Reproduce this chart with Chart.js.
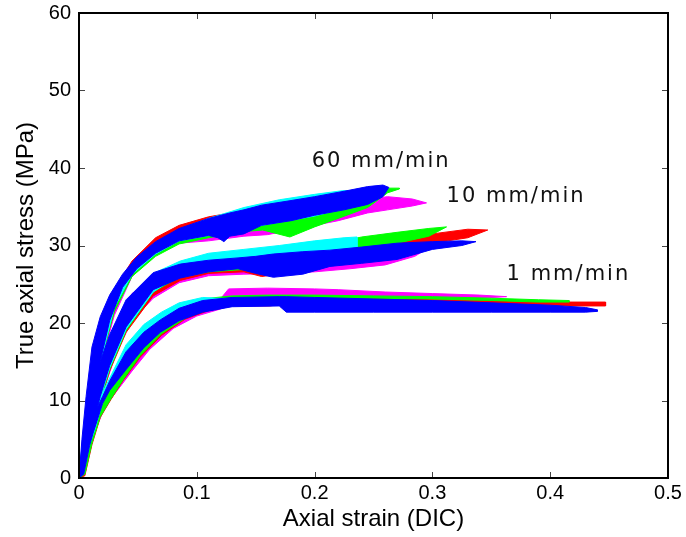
<!DOCTYPE html>
<html>
<head>
<meta charset="utf-8">
<script src="https://cdn.jsdelivr.net/npm/chart.js@4"></script>
<style>
  html, body { margin: 0; padding: 0; background: #fff; }
  canvas { display: block; }
</style>
</head>
<body>
<canvas id="stressChart" width="686" height="537"></canvas>
<script>
// === axis ticks ===
const xTickValues = [0, 0.1, 0.2, 0.3, 0.4, 0.5];
const xTickLabels = ['0', '0.1', '0.2', '0.3', '0.4', '0.5'];
const yTickValues = [0, 10, 20, 30, 40, 50, 60];
const yTickLabels = ['0', '10', '20', '30', '40', '50', '60'];
const rateLabels = ['60 mm/min', '10 mm/min', '1 mm/min'];

// === 60 mm/min : each test is a band (upper / lower envelope of the cycles) ===
const strain60Blue = [0, 0.0025, 0.006, 0.011, 0.018, 0.026, 0.037, 0.049, 0.065, 0.085, 0.11, 0.118, 0.123, 0.128, 0.14, 0.155, 0.18, 0.2, 0.225, 0.245, 0.258, 0.263];
const upper60Blue = [0, 5, 10.5, 16.9, 20.8, 23.6, 26.3, 28.5, 30.5, 32.2, 33.5, 33.8, 34.0, 34.2, 34.6, 35.2, 35.8, 36.3, 37.0, 37.6, 37.8, 37.5];
const lower60Blue = [0, 0.5, 3, 8, 15, 20.3, 24.6, 27, 29.0, 30.6, 31.3, 31.0, 30.5, 31.2, 31.5, 32.6, 33.2, 33.9, 34.6, 35.3, 36.3, 37.5];

const strain60Cyan = [0, 0.003, 0.007, 0.012, 0.02, 0.03, 0.045, 0.065, 0.085, 0.11, 0.14, 0.17, 0.2, 0.225, 0.24];
const upper60Cyan = [0, 5, 10, 16.2, 20.5, 24, 27.5, 30.3, 32.0, 33.5, 34.9, 35.9, 36.6, 37.1, 36.9];
const lower60Cyan = [0, 1, 4, 8.5, 16, 22, 26.3, 28.9, 30.6, 31.3, 32.2, 33, 33.8, 34.8, 36.9];

const strain60Green = [0, 0.003, 0.007, 0.012, 0.02, 0.03, 0.045, 0.065, 0.085, 0.11, 0.14, 0.156, 0.179, 0.2, 0.22, 0.245, 0.262, 0.272];
const upper60Green = [0, 4.5, 9.5, 15.8, 20.3, 23.8, 27.4, 30.2, 31.9, 33.2, 34.4, 34.9, 35.6, 36.1, 36.6, 37.1, 37.4, 37.4];
const lower60Green = [0, 1, 3.5, 8, 16, 21.5, 26, 28.6, 30.2, 31.0, 31.8, 32.0, 31.1, 32.4, 33.5, 34.9, 36.8, 37.3];

const strain60Red = [0, 0.003, 0.007, 0.012, 0.02, 0.03, 0.045, 0.065, 0.085, 0.11, 0.14, 0.17, 0.2, 0.23, 0.245];
const upper60Red = [0, 4.5, 10, 16, 20.8, 24.3, 28, 31.0, 32.6, 33.7, 34.5, 35.2, 35.8, 36.4, 36.2];
const lower60Red = [0, 1, 4, 8.5, 16, 21.5, 26.3, 28.9, 30.5, 31.3, 32, 32.8, 33.6, 34.5, 36.2];

const strain60Magenta = [0, 0.003, 0.007, 0.012, 0.02, 0.03, 0.045, 0.065, 0.085, 0.11, 0.14, 0.16, 0.19, 0.22, 0.245, 0.262, 0.283, 0.295];
const upper60Magenta = [0, 4, 9, 15, 19.8, 23.2, 26.8, 29.8, 31.5, 32.8, 33.8, 34.3, 35, 35.6, 36.0, 36.3, 36.0, 35.5];
const lower60Magenta = [0, 0.8, 3, 8, 15.5, 21, 26, 28.8, 30.3, 30.6, 31.2, 31.4, 32.3, 33.2, 34.2, 34.6, 35.1, 35.5];

// === 10 mm/min ===
const strain10Blue = [0, 0.003, 0.007, 0.012, 0.018, 0.026, 0.04, 0.063, 0.086, 0.11, 0.135, 0.15, 0.165, 0.19, 0.213, 0.24, 0.27, 0.3, 0.325, 0.337];
const upper10Blue = [0, 4, 8, 12, 15, 18.5, 23, 26.5, 27.6, 28.1, 28.4, 28.6, 28.9, 29.2, 29.4, 29.8, 30.3, 30.5, 30.6, 30.5];
const lower10Blue = [0, 1, 3.5, 7, 10.5, 14.5, 19.5, 24.3, 25.8, 26.6, 27.0, 26.4, 25.9, 26.3, 27.3, 27.7, 28.2, 29.5, 30.0, 30.5];

const strain10Cyan = [0, 0.003, 0.007, 0.012, 0.018, 0.026, 0.04, 0.063, 0.086, 0.11, 0.14, 0.17, 0.2, 0.225, 0.236];
const upper10Cyan = [0, 4, 8, 11.8, 14.8, 18.3, 22.8, 26.4, 28.0, 29.0, 29.5, 30.0, 30.6, 31.0, 31.1];
const lower10Cyan = [0, 1, 3.3, 6.8, 10.3, 14.2, 19.2, 24.0, 26.3, 27.0, 27.4, 28.0, 28.8, 29.4, 29.8];

const strain10Green = [0, 0.003, 0.007, 0.012, 0.018, 0.026, 0.04, 0.063, 0.086, 0.11, 0.14, 0.17, 0.2, 0.24, 0.27, 0.297, 0.312];
const upper10Green = [0, 3.8, 7.6, 11.5, 14.5, 18, 22.6, 26.2, 27.3, 27.8, 28.3, 29.0, 29.8, 31.1, 31.7, 32.2, 32.4];
const lower10Green = [0, 0.8, 3, 6.5, 10, 14, 19, 24, 26, 26.6, 26.9, 27.3, 28, 29.3, 30.3, 31.2, 32.4];

const strain10Red = [0, 0.003, 0.007, 0.012, 0.018, 0.026, 0.04, 0.063, 0.086, 0.11, 0.14, 0.155, 0.17, 0.2, 0.23, 0.26, 0.3, 0.33, 0.347];
const upper10Red = [0, 3.6, 7.4, 11.3, 14.3, 17.8, 22.4, 26.0, 27.1, 27.6, 27.9, 28.1, 28.5, 29.3, 30.0, 30.7, 31.5, 32.1, 32.0];
const lower10Red = [0, 0.8, 2.8, 6.2, 9.8, 13.8, 18.8, 23.5, 25.5, 26.4, 26.6, 26.0, 26.3, 27.2, 28.2, 29.2, 30.3, 31.0, 32.0];

const strain10Magenta = [0, 0.004, 0.009, 0.015, 0.022, 0.032, 0.045, 0.063, 0.085, 0.11, 0.14, 0.17, 0.2, 0.23, 0.26, 0.285, 0.3];
const upper10Magenta = [0, 4, 8.5, 12.2, 15.8, 19.8, 23.8, 25.6, 26.8, 27.6, 28, 28.5, 29.2, 29.6, 30.0, 30.2, 30.0];
const lower10Magenta = [0, 0.8, 3.5, 7.5, 11.8, 16.3, 20.3, 23.2, 25.2, 26.1, 26.3, 26.4, 26.6, 27, 27.5, 28.6, 30.0];

// === 1 mm/min ===
const strain1Blue = [0, 0.004, 0.009, 0.012, 0.02, 0.026, 0.04, 0.055, 0.069, 0.085, 0.105, 0.13, 0.17, 0.176, 0.2, 0.25, 0.3, 0.35, 0.4, 0.43, 0.44];
const upper1Blue = [0, 3.5, 6.5, 8, 10.5, 12.5, 16.3, 18.8, 20.4, 21.9, 22.9, 23.3, 23.4, 23.4, 23.3, 23.1, 22.9, 22.6, 22.3, 22.0, 21.7];
const lower1Blue = [0, 0.5, 4.2, 5.8, 9.6, 11.3, 14, 16.8, 18.8, 20.3, 21.4, 22.1, 22.2, 21.4, 21.4, 21.4, 21.4, 21.4, 21.4, 21.4, 21.5];

const strain1Cyan = [0, 0.004, 0.009, 0.014, 0.02, 0.028, 0.04, 0.055, 0.07, 0.085, 0.105, 0.13, 0.16, 0.19];
const upper1Cyan = [0, 3.5, 6.7, 8.8, 11, 13.5, 17.2, 19.8, 21.4, 22.6, 23.3, 23.1, 23.0, 22.9];
const lower1Cyan = [0, 0.8, 4.3, 6.5, 9.8, 12.2, 14.5, 17.3, 19.3, 21.0, 22.0, 22.2, 22.3, 22.9];

const strain1Green = [0, 0.005, 0.011, 0.018, 0.027, 0.038, 0.052, 0.07, 0.09, 0.104, 0.13, 0.16, 0.2, 0.25, 0.3, 0.35, 0.39, 0.416];
const upper1Green = [0, 3.2, 6.8, 9.5, 12.5, 15.5, 18.2, 20.4, 22.0, 23.1, 23.5, 23.6, 23.6, 23.5, 23.4, 23.2, 23.0, 22.9];
const lower1Green = [0, 0.5, 4.5, 7.9, 10.2, 12.8, 15.8, 18.6, 20.6, 21.6, 22.2, 22.5, 23.2, 23.2, 23.1, 22.9, 22.7, 22.7];

const strain1Red = [0, 0.005, 0.011, 0.018, 0.027, 0.038, 0.052, 0.07, 0.09, 0.11, 0.13, 0.148, 0.162, 0.18, 0.22, 0.27, 0.32, 0.37, 0.41, 0.447];
const upper1Red = [0, 3, 6.5, 9.3, 12.3, 15.3, 18.0, 20.2, 21.8, 22.8, 23.3, 23.5, 23.5, 23.5, 23.4, 23.2, 23.0, 22.8, 22.7, 22.7];
const lower1Red = [0, 0.3, 4.3, 7.8, 10.1, 12.7, 15.6, 18.4, 20.5, 21.6, 22.2, 22.2, 22.2, 22.6, 22.7, 22.6, 22.4, 22.3, 22.2, 22.2];

const strain1Magenta = [0, 0.006, 0.013, 0.022, 0.032, 0.045, 0.06, 0.08, 0.1, 0.12, 0.127, 0.16, 0.2, 0.22, 0.26, 0.3, 0.34, 0.363];
const upper1Magenta = [0, 3, 6.5, 10.5, 13.2, 16, 18.5, 20.8, 22.2, 23.1, 24.4, 24.5, 24.4, 24.3, 24.0, 23.8, 23.6, 23.4];
const lower1Magenta = [0, 2.2, 5.8, 9.2, 11.2, 13.8, 16.6, 19.3, 20.9, 21.8, 22.4, 23, 23.1, 23.2, 23.2, 23.2, 23.2, 23.4];

// colours like matlab 'b','c','g','r','m'; blue is plotted last so it sits on top
const bandColors = { blue: '#0000ff', cyan: '#00ffff', green: '#00ff00', red: '#ff0000', magenta: '#ff00ff' };
const drawOrder = { blue: 0, cyan: 1, green: 2, red: 3, magenta: 4 };

const bands = [
    ['magenta', strain60Magenta, upper60Magenta, lower60Magenta],
    ['red', strain60Red, upper60Red, lower60Red],
    ['green', strain60Green, upper60Green, lower60Green],
    ['cyan', strain60Cyan, upper60Cyan, lower60Cyan],
    ['blue', strain60Blue, upper60Blue, lower60Blue],
    ['magenta', strain10Magenta, upper10Magenta, lower10Magenta],
    ['red', strain10Red, upper10Red, lower10Red],
    ['green', strain10Green, upper10Green, lower10Green],
    ['cyan', strain10Cyan, upper10Cyan, lower10Cyan],
    ['blue', strain10Blue, upper10Blue, lower10Blue],
    ['magenta', strain1Magenta, upper1Magenta, lower1Magenta],
    ['red', strain1Red, upper1Red, lower1Red],
    ['green', strain1Green, upper1Green, lower1Green],
    ['cyan', strain1Cyan, upper1Cyan, lower1Cyan],
    ['blue', strain1Blue, upper1Blue, lower1Blue]
];

// upper envelope out, lower envelope back -> one closed shape per test
const makeBand = (strain, upper, lower) => {
    const pts = strain.map((s, i) => ({ x: s, y: upper[i] }));
    for (let i = strain.length - 1; i >= 0; i--) {
        pts.push({ x: strain[i], y: lower[i] });
    }
    return pts;
};

const datasets = bands.map(([name, strain, upper, lower]) => ({
    data: makeBand(strain, upper, lower),
    borderColor: bandColors[name],
    backgroundColor: bandColors[name],
    borderWidth: 1,
    fill: 'shape',
    pointRadius: 0,
    tension: 0,
    order: drawOrder[name]
}));

// text next to each group of curves (data coords of the left baseline point)
const labelAnchors = [[0.1975, 40.1], [0.312, 35.6], [0.363, 25.5]];

const rateLabelPlugin = {
    id: 'rateLabels',
    afterDatasetsDraw(chart) {
        const { ctx, scales: { x, y } } = chart;
        ctx.save();
        ctx.fillStyle = '#111';
        ctx.font = '21px "DejaVu Sans"';
        ctx.textAlign = 'left';
        ctx.textBaseline = 'alphabetic';
        if ('letterSpacing' in ctx) ctx.letterSpacing = '2px';
        rateLabels.forEach((txt, i) => {
            const [sx, sy] = labelAnchors[i];
            ctx.fillText(txt, x.getPixelForValue(sx), y.getPixelForValue(sy));
        });
        ctx.restore();
    }
};

// matlab style box with inward ticks on all four sides
const boxPlugin = {
    id: 'boxTicks',
    afterDatasetsDraw(chart) {
        const { ctx, chartArea: a, scales: { x, y } } = chart;
        const len = 6;
        ctx.save();
        ctx.strokeStyle = '#444';
        ctx.lineWidth = 1;
        ctx.beginPath();
        xTickValues.forEach(v => {
            const px = Math.round(x.getPixelForValue(v)) + 0.5;
            ctx.moveTo(px, a.bottom); ctx.lineTo(px, a.bottom - len);
            ctx.moveTo(px, a.top); ctx.lineTo(px, a.top + len);
        });
        yTickValues.forEach(v => {
            const py = Math.round(y.getPixelForValue(v)) + 0.5;
            ctx.moveTo(a.left, py); ctx.lineTo(a.left + len, py);
            ctx.moveTo(a.right, py); ctx.lineTo(a.right - len, py);
        });
        ctx.stroke();
        ctx.strokeStyle = '#000';
        ctx.lineWidth = 2;
        ctx.strokeRect(a.left, a.top, a.right - a.left, a.bottom - a.top);
        ctx.restore();
    }
};

const tickFont = { family: '"Liberation Sans", Arial, sans-serif', size: 20 };
const titleFont = { family: '"Liberation Sans", Arial, sans-serif', size: 24 };

new Chart(document.getElementById('stressChart'), {
    type: 'line',
    data: { datasets },
    options: {
        responsive: false,
        animation: false,
        events: [],
        layout: { padding: { top: 13, right: 18, left: 0, bottom: 0 } },
        plugins: {
            legend: { display: false },
            tooltip: { enabled: false }
        },
        scales: {
            x: {
                type: 'linear',
                min: 0,
                max: 0.5,
                afterBuildTicks: s => { s.ticks = xTickValues.map(v => ({ value: v })); },
                afterFit: s => { s.height = 59; },
                grid: { display: false, drawTicks: false },
                border: { display: false },
                ticks: {
                    color: '#000',
                    font: tickFont,
                    padding: 3,
                    maxRotation: 0,
                    autoSkip: false,
                    callback: (v, i) => xTickLabels[i]
                },
                title: {
                    display: true,
                    text: 'Axial strain (DIC)',
                    color: '#000',
                    font: titleFont,
                    padding: { top: 0, bottom: 3 }
                }
            },
            y: {
                type: 'linear',
                min: 0,
                max: 60,
                afterBuildTicks: s => { s.ticks = yTickValues.map(v => ({ value: v })); },
                afterFit: s => {
                    s.width = 79;
                    s.paddingTop = 0;
                    s.paddingBottom = 0;
                },
                grid: { display: false, drawTicks: false },
                border: { display: false },
                ticks: {
                    color: '#000',
                    font: tickFont,
                    padding: 8,
                    autoSkip: false,
                    callback: (v, i) => yTickLabels[i]
                },
                title: {
                    display: true,
                    text: 'True axial stress (MPa)',
                    color: '#000',
                    font: titleFont,
                    padding: { top: 12, bottom: 0 }
                }
            }
        }
    },
    plugins: [rateLabelPlugin, boxPlugin]
});
</script>
</body>
</html>
